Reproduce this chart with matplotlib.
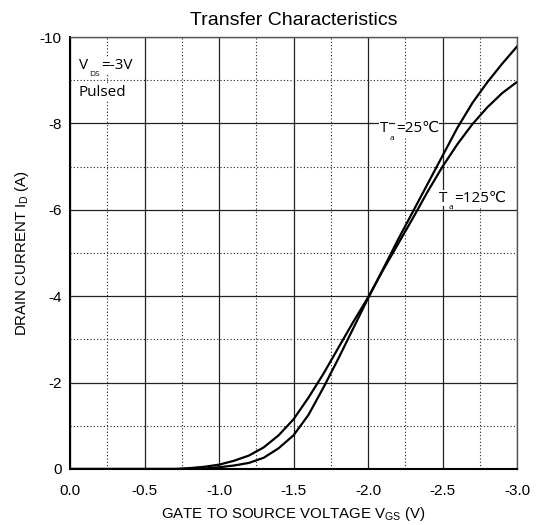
import numpy as np
import matplotlib
matplotlib.use("Agg")
import matplotlib.pyplot as plt
from matplotlib.ticker import MultipleLocator, FormatStrFormatter

plt.rcParams['axes.unicode_minus'] = False
plt.rcParams['font.family'] = ['Liberation Sans', 'DejaVu Sans']

# --- data (Vgs in V, Id in A) ---
vgs_25 = [0.0, -0.5, -0.8, -0.9, -1.0, -1.1, -1.2, -1.3, -1.4, -1.5, -1.6,
          -1.7, -1.8, -1.9, -2.0, -2.1, -2.2, -2.3, -2.4, -2.5, -2.6, -2.7, -2.8,
          -2.9, -3.0]
id_25 = [0.0, 0.0, 0.0, -0.01, -0.04, -0.08, -0.14, -0.26, -0.48, -0.78, -1.25,
         -1.88, -2.55, -3.25, -3.95, -4.62, -5.3, -5.95, -6.6, -7.25, -7.9, -8.47, -8.95,
         -9.38, -9.78]

vgs_125 = [0.0, -0.5, -0.7, -0.8, -0.9, -1.0, -1.1, -1.2, -1.3, -1.4, -1.5, -1.6,
           -1.7, -1.8, -1.9, -2.0, -2.1, -2.2, -2.3, -2.4, -2.5, -2.6, -2.7, -2.8,
           -2.9, -3.0]
id_125 = [0.0, 0.0, 0.0, -0.02, -0.05, -0.10, -0.19, -0.31, -0.5, -0.78, -1.15, -1.65,
          -2.2, -2.8, -3.4, -3.97, -4.6, -5.2, -5.8, -6.42, -7.0, -7.52, -7.98, -8.37,
          -8.7, -8.96]

fig = plt.figure(figsize=(5.37, 5.25), dpi=100)
ax = fig.add_axes([0.1304, 0.1067, 0.8324, 0.8228])

ax.set_xlim(0, -3)
ax.set_ylim(0, -10)

ax.xaxis.set_major_locator(MultipleLocator(0.5))
ax.xaxis.set_minor_locator(MultipleLocator(0.25))
ax.yaxis.set_major_locator(MultipleLocator(2))
ax.yaxis.set_minor_locator(MultipleLocator(1))
ax.xaxis.set_major_formatter(FormatStrFormatter('%.1f'))
ax.yaxis.set_major_formatter(FormatStrFormatter('%d'))

ax.grid(True, which='major', color='#222222', linewidth=0.9)
ax.grid(True, which='minor', color='#222222', linewidth=0.8, linestyle=(0, (1, 2)))
ax.set_axisbelow(True)
ax.tick_params(which='both', length=0)
ax.tick_params(axis='x', pad=11, labelsize=11)
ax.tick_params(axis='y', pad=6, labelsize=11)

for side in ['left', 'bottom']:
    ax.spines[side].set_linewidth(1.5)
    ax.spines[side].set_color('black')
for side in ['top', 'right']:
    ax.spines[side].set_linewidth(1.0)
    ax.spines[side].set_color('#555555')

ax.plot(vgs_25, id_25, color='black', linewidth=1.6)
ax.plot(vgs_125, id_125, color='black', linewidth=1.6)

ax.set_title('Transfer Characteristics', fontsize=14, pad=9)
ax.set_xlabel(r'GATE TO SOURCE VOLTAGE V$\mathregular{_{GS}}$ (V)', fontsize=10.8, labelpad=5)
ax.set_ylabel(r'DRAIN CURRENT I$\mathregular{_D}$ (A)', fontsize=10.8, labelpad=6)


def sub_label(x, y, main, sub, rest, size=11):
    # main text, small subscript, then the rest on the main baseline
    kw = dict(family=['Open Sans', 'DejaVu Sans'], color='black')
    bb = dict(facecolor='white', edgecolor='none', pad=0.3)
    t1 = ax.text(x, y, main, fontsize=size, va='baseline', ha='left', bbox=bb, **kw)
    t2 = ax.annotate(sub, xy=(1.0, 0.0), xycoords=t1, xytext=(0.8, -2.5),
                     textcoords='offset points', fontsize=size * 0.55,
                     va='baseline', ha='left', zorder=5, **kw)
    ax.annotate(rest, xy=(1.0, 0.0), xycoords=(t2, t1), xytext=(1.2, 0),
                textcoords='offset points', fontsize=size, va='bottom', ha='left',
                bbox=bb, **kw)


sub_label(-0.06, -9.27, 'V', 'DS', '=-3V')
ax.text(-0.06, -8.63, 'Pulsed', fontsize=11, family=['Open Sans', 'DejaVu Sans'],
        va='baseline', ha='left', bbox=dict(facecolor='white', edgecolor='none', pad=0.3))
sub_label(-2.08, -7.80, 'T', 'a', '=25\u2103')
sub_label(-2.475, -6.19, 'T', 'a', '=125\u2103')

fig.savefig('out.png', dpi=100)
